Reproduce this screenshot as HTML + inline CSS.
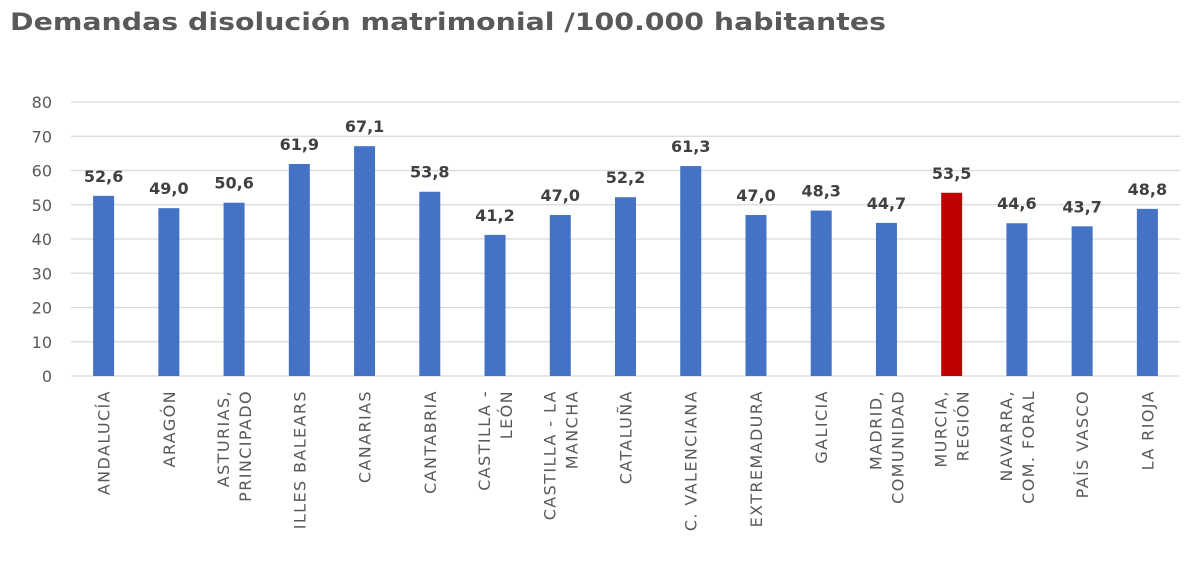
<!DOCTYPE html>
<html><head><meta charset="utf-8"><style>
body{margin:0;background:#fff;width:1200px;height:557px;overflow:hidden;font-family:"DejaVu Sans",sans-serif}
</style></head><body>
<svg width="1200" height="557" font-family="DejaVu Sans, sans-serif">
<text x="10" y="30" font-size="24" font-weight="bold" fill="#595959" textLength="876" lengthAdjust="spacingAndGlyphs">Demandas disolución matrimonial /100.000 habitantes</text>
<g id="grid"></g><g id="bars"></g><g id="labels"></g>
</svg>
<script>
const categories=[["ANDALUCÍA"],["ARAGÓN"],["ASTURIAS,","PRINCIPADO"],["ILLES BALEARS"],["CANARIAS"],["CANTABRIA"],["CASTILLA -","LEÓN"],["CASTILLA - LA","MANCHA"],["CATALUÑA"],["C. VALENCIANA"],["EXTREMADURA"],["GALICIA"],["MADRID,","COMUNIDAD"],["MURCIA,","REGIÓN"],["NAVARRA,","COM. FORAL"],["PAÍS VASCO"],["LA RIOJA"]];
const values=[52.6,49.0,50.6,61.9,67.1,53.8,41.2,47.0,52.2,61.3,47.0,48.3,44.7,53.5,44.6,43.7,48.8];
const yTicks=[0,10,20,30,40,50,60,70,80];
const highlightIndex=13;
const NS="http://www.w3.org/2000/svg";
const X0=71,X1=1180,Y0=376,Y80=102;
const band=(X1-X0)/categories.length;
const y=v=>Y0-(v/80)*(Y0-Y80);
const xc=i=>X0+band*(i+0.5);
function mk(t,a,p){const e=document.createElementNS(NS,t);for(const k in a)e.setAttribute(k,a[k]);p.appendChild(e);return e;}
const g=document.getElementById('grid'),b=document.getElementById('bars'),l=document.getElementById('labels');
yTicks.forEach(t=>{
 const ln=mk('line',{x1:X0,x2:X1,y1:y(t),y2:y(t),stroke:'#d9d9d9','stroke-width':1.3},g);
 
 
 const tx=mk('text',{x:52,y:y(t)+6,'font-size':16,fill:'#595959','text-anchor':'end'},g);
 tx.textContent=t;
 
 
});
values.forEach((v,i)=>{
 const w=21;
 const r=mk('rect',{x:xc(i)-w/2,y:y(v),width:w,height:Y0-y(v),fill:i===highlightIndex?'#c00000':'#4472c4'},b);
 
 
 const t=mk('text',{x:xc(i),y:y(v)-14,'font-size':16,'font-weight':'bold',fill:'#404040','text-anchor':'middle'},l);
 t.textContent=v.toFixed(1).replace('.',',');
 
 
 const lines=categories[i];
 lines.forEach((s,j)=>{
  const off=(j-(lines.length-1)/2)*22;
  const cx=xc(i)+off+6;
  const ct=mk('text',{x:cx,y:390,'font-size':16,'letter-spacing':1.4,fill:'#595959','text-anchor':'end',transform:`rotate(-90 ${cx} 390)`},l);
  ct.textContent=s;
  
  
 });
});
</script>
</body></html>
